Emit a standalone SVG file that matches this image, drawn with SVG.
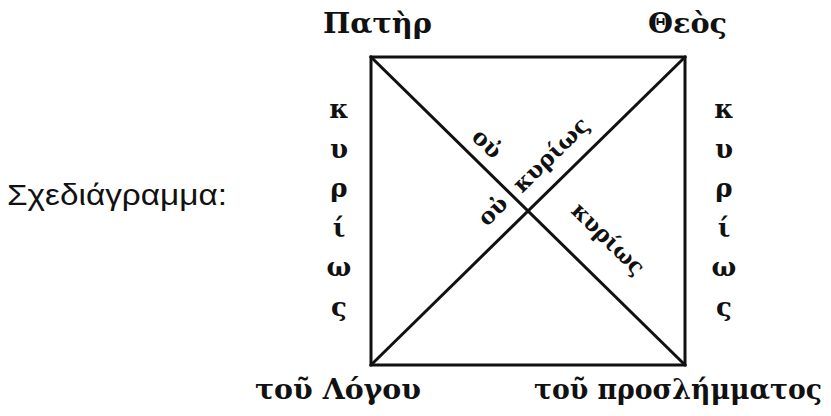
<svg xmlns="http://www.w3.org/2000/svg" width="831" height="416" viewBox="0 0 831 416">
<style>
.g{font-family:"DejaVu Serif","Liberation Serif",serif;fill:#111;font-weight:bold;}
.lab{font-size:28px;}
.bot{font-size:27px;}
.v{font-size:26px;text-anchor:middle;}
.d{font-size:23px;text-anchor:middle;}
.s{font-family:"Liberation Sans",Arial,sans-serif;font-size:30px;fill:#111;}
.ln{stroke:#111;stroke-width:3;fill:none;stroke-linecap:square;}
</style>
<rect width="831" height="416" fill="#fff"/>
<g id="connectors">
<rect class="ln" x="371" y="57" width="314" height="308"/>
<line class="ln" x1="371" y1="57" x2="685" y2="365"/>
<line class="ln" x1="371" y1="365" x2="685" y2="57"/>
</g>
<g id="title"><text class="s" x="7" y="205" textLength="220" lengthAdjust="spacingAndGlyphs">Σχεδιάγραμμα:</text></g>
<g id="pater"><text class="g lab" x="323" y="33" textLength="109" lengthAdjust="spacingAndGlyphs">Πατὴρ</text></g>
<g id="theos"><text class="g lab" x="648" y="33" textLength="79" lengthAdjust="spacingAndGlyphs">Θεὸς</text></g>
<g id="logos"><text class="g bot" x="255" y="399" textLength="166" lengthAdjust="spacingAndGlyphs">τοῦ Λόγου</text></g>
<g id="proslemma"><text class="g bot" x="534" y="399" textLength="288" lengthAdjust="spacingAndGlyphs">τοῦ προσλήμματος</text></g>
<g id="left-kyrios" class="g v">
<text x="339" y="118">κ</text><text x="339" y="158">υ</text><text x="339" y="197">ρ</text><text x="339" y="237">ί</text><text x="339" y="276">ω</text><text x="339" y="316">ς</text>
</g>
<g id="right-kyrios" class="g v">
<text x="724" y="118">κ</text><text x="724" y="158">υ</text><text x="724" y="197">ρ</text><text x="724" y="237">ί</text><text x="724" y="276">ω</text><text x="724" y="316">ς</text>
</g>
<g id="diag-labels" class="g d">
<text transform="translate(486,145) rotate(44.4)" x="0" y="6">οὐ</text>
<text transform="translate(552,156) rotate(-44.4)" x="0" y="6" textLength="96" lengthAdjust="spacingAndGlyphs">κυρίως</text>
<text transform="translate(494,212) rotate(-44.4)" x="0" y="6">οὐ</text>
<text transform="translate(607,240) rotate(44.4)" x="0" y="6" textLength="92" lengthAdjust="spacingAndGlyphs">κυρίως</text>
</g>
</svg>
